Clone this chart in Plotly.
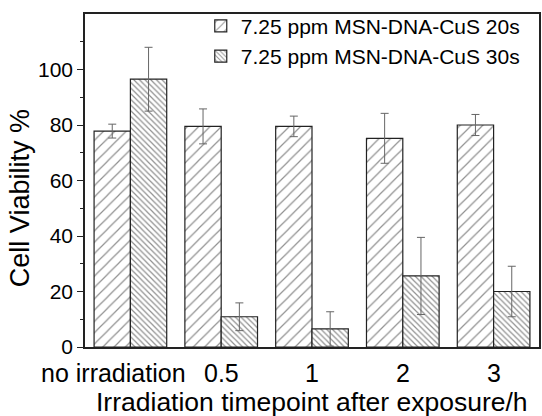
import plotly.graph_objects as go

# Irradiation timepoints (h after exposure)
timepoints = ["no irradiation", "0.5", "1", "2", "3"]
# horizontal nudge (px) of each category label; the long first label
# is pulled left so it stays clear of "0.5"
label_shift = [-17, 0, 0, 0, 0]

# Cell viability (%) and standard deviations for each irradiation time
viability_20s = [77.8, 79.5, 79.5, 75.2, 80.0]
error_20s = [2.5, 6.3, 3.7, 9.0, 3.8]
viability_30s = [96.5, 10.9, 6.5, 25.6, 20.0]
error_30s = [11.5, 5.0, 6.2, 13.9, 9.1]

series_names = ["7.25 ppm MSN-DNA-CuS 20s", "7.25 ppm MSN-DNA-CuS 30s"]
x_title = "Irradiation timepoint after exposure/h"
y_title = "Cell Viability %"

FONT = "Liberation Sans, Arial, sans-serif"
AXIS = "#222222"

fig = go.Figure()

fig.add_trace(go.Bar(
    x=timepoints, y=viability_20s, name=series_names[0],
    marker=dict(color="white",
                line=dict(color=AXIS, width=1.2),
                pattern=dict(shape="/", size=8, solidity=0.15,
                             fgcolor="#222222", bgcolor="white")),
    error_y=dict(type="data", array=error_20s, visible=True,
                 color="#666666", thickness=1, width=4),
))
fig.add_trace(go.Bar(
    x=timepoints, y=viability_30s, name=series_names[1],
    marker=dict(color="white",
                line=dict(color=AXIS, width=1.2),
                pattern=dict(shape="\\", size=4, solidity=0.3,
                             fgcolor="#222222", bgcolor="white")),
    error_y=dict(type="data", array=error_30s, visible=True,
                 color="#666666", thickness=1, width=4),
))

# category labels under the x axis (placed by category index)
for i, (cat, dx) in enumerate(zip(timepoints, label_shift)):
    fig.add_annotation(
        x=i, xref="x", y=0, yref="paper", yanchor="top", xanchor="center",
        yshift=-10, xshift=dx, height=27, showarrow=False, text=cat,
        font=dict(size=25, family=FONT, color="black"),
    )

# x-axis title
fig.add_annotation(
    x=0.5, xref="paper", xanchor="center",
    y=0, yref="paper", yanchor="top", yshift=-37, height=32,
    text=x_title, showarrow=False,
    font=dict(size=26.5, family=FONT, color="black"),
)

# y-axis title
fig.add_annotation(
    x=0, xref="paper", xshift=-65, xanchor="center",
    y=0.447, yref="paper", yanchor="middle",
    text=y_title, textangle=-90, showarrow=False,
    font=dict(size=27, family=FONT, color="black"),
)

fig.update_layout(
    width=542, height=416,
    margin=dict(l=85, r=3, t=14, b=69),
    paper_bgcolor="white", plot_bgcolor="white",
    barmode="group", bargap=0.2, bargroupgap=0.0,
    font=dict(family=FONT, color="black"),
    showlegend=True,
    legend=dict(x=0.255, y=1.025, xanchor="left", yanchor="top",
                bgcolor="rgba(0,0,0,0)", borderwidth=0,
                font=dict(size=21, family=FONT, color="black"),
                tracegroupgap=0, itemwidth=30),
)

fig.update_xaxes(
    type="category", categoryorder="array", categoryarray=timepoints,
    range=[-0.5, len(timepoints) - 0.5],
    automargin=False, showticklabels=False,
    showline=True, linecolor=AXIS, linewidth=1.5, mirror=True,
    ticks="", showgrid=False,
)
fig.update_yaxes(
    range=[0, 120], tickvals=[0, 20, 40, 60, 80, 100], automargin=False,
    showline=True, linecolor=AXIS, linewidth=1.5, mirror=True,
    ticks="outside", ticklen=6, tickwidth=1.2, tickcolor=AXIS,
    minor=dict(tickvals=[10, 30, 50, 70, 90, 110], ticks="outside",
               ticklen=3, tickwidth=1.2, tickcolor=AXIS),
    showgrid=False, zeroline=False,
    tickfont=dict(size=21, family=FONT, color="black"),
)

fig.write_html("out.html")
